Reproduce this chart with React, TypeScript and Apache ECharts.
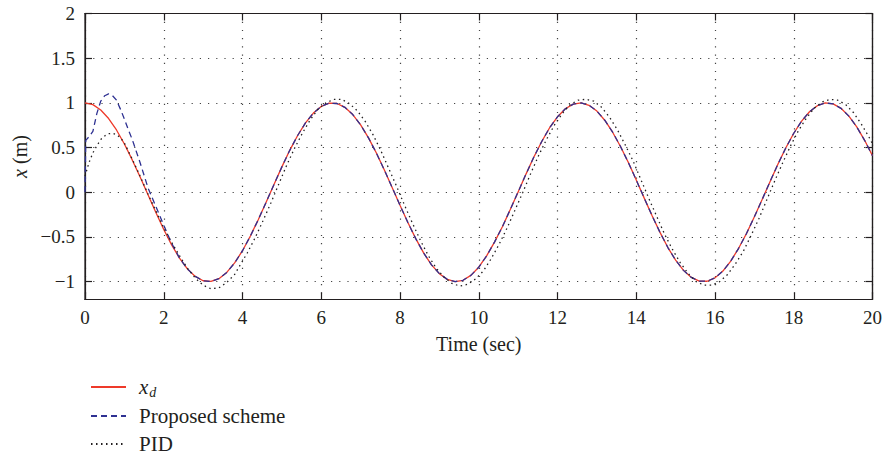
import React, { useEffect, useRef } from "react";
import * as echarts from "echarts";

// time grid (s)
const T = [
  0, 0.2, 0.4, 0.6, 0.8, 1, 1.2, 1.4, 1.6, 1.8, 2, 2.2, 2.4, 2.6, 2.8, 3, 3.2, 3.4, 3.6, 3.8,
  4, 4.2, 4.4, 4.6, 4.8, 5, 5.2, 5.4, 5.6, 5.8, 6, 6.2, 6.4, 6.6, 6.8, 7, 7.2, 7.4, 7.6, 7.8,
  8, 8.2, 8.4, 8.6, 8.8, 9, 9.2, 9.4, 9.6, 9.8, 10, 10.2, 10.4, 10.6, 10.8, 11, 11.2, 11.4, 11.6, 11.8,
  12, 12.2, 12.4, 12.6, 12.8, 13, 13.2, 13.4, 13.6, 13.8, 14, 14.2, 14.4, 14.6, 14.8, 15, 15.2, 15.4, 15.6, 15.8,
  16, 16.2, 16.4, 16.6, 16.8, 17, 17.2, 17.4, 17.6, 17.8, 18, 18.2, 18.4, 18.6, 18.8, 19, 19.2, 19.4, 19.6, 19.8,
  20,
];

// desired trajectory x_d
const XD = [
  1, 0.98, 0.921, 0.825, 0.697, 0.54, 0.362, 0.17, -0.029, -0.227, -0.416, -0.589, -0.737, -0.857, -0.942, -0.99, -0.998, -0.967, -0.897, -0.791,
  -0.654, -0.49, -0.307, -0.112, 0.087, 0.284, 0.469, 0.635, 0.776, 0.886, 0.96, 0.997, 0.993, 0.95, 0.869, 0.754, 0.608, 0.439, 0.251, 0.054,
  -0.146, -0.339, -0.519, -0.679, -0.812, -0.911, -0.975, -1.0, -0.985, -0.93, -0.839, -0.712, -0.558, -0.386, -0.194, 0.004, 0.203, 0.394, 0.568, 0.722,
  0.844, 0.934, 0.986, 0.999, 0.973, 0.908, 0.806, 0.672, 0.512, 0.332, 0.137, -0.063, -0.26, -0.446, -0.616, -0.76, -0.874, -0.953, -0.994, -0.996,
  -0.958, -0.882, -0.77, -0.627, -0.461, -0.275, -0.079, 0.121, 0.316, 0.498, 0.66, 0.796, 0.901, 0.969, 0.999, 0.989, 0.939, 0.852, 0.731, 0.581,
  0.408,
];

// proposed scheme: initial transient, afterwards it tracks x_d
const PROPOSED_EARLY_T = [0, 0.02, 0.1, 0.2, 0.3, 0.4, 0.5, 0.6, 0.7, 0.8, 0.9, 1.0, 1.1, 1.2, 1.4, 1.6, 1.8, 2.0, 2.2];
const PROPOSED_EARLY_V = [0, 0.58, 0.62, 0.68, 0.88, 1.02, 1.08, 1.1, 1.08, 1.03, 0.93, 0.82, 0.7, 0.59, 0.33, 0.05, -0.16, -0.37, -0.57];
const PROPOSED_TRACK_FROM = 2.4;

// PID response
const PID_T = [
  0, 0.1, 0.2, 0.3, 0.4, 0.5, 0.6, 0.7, 0.8, 0.9, 1.0,
  1.2, 1.4, 1.6, 1.8, 2.0, 2.2, 2.4, 2.6, 2.8, 3.0, 3.2, 3.4, 3.6, 3.8,
  4.12, 4.32, 4.52, 4.72, 4.92, 5.12, 5.32, 5.52, 5.72, 5.92,
  6.12, 6.32, 6.52, 6.72, 6.92, 7.12, 7.32, 7.52, 7.72, 7.92,
  8.12, 8.32, 8.52, 8.72, 8.92, 9.12, 9.32, 9.52, 9.72, 9.92,
  10.12, 10.32, 10.52, 10.72, 10.92, 11.12, 11.32, 11.52, 11.72, 11.92,
  12.12, 12.32, 12.52, 12.72, 12.92, 13.12, 13.32, 13.52, 13.72, 13.92,
  14.12, 14.32, 14.52, 14.72, 14.92, 15.12, 15.32, 15.52, 15.72, 15.92,
  16.12, 16.32, 16.52, 16.72, 16.92, 17.12, 17.32, 17.52, 17.72, 17.92,
  18.12, 18.32, 18.52, 18.72, 18.92, 19.12, 19.32, 19.52, 19.72, 19.92,
  20,
];
const PID_V = [
  0.18, 0.33, 0.44, 0.52, 0.59, 0.63, 0.655, 0.66, 0.645, 0.61, 0.55,
  0.37, 0.18, -0.02, -0.21, -0.4, -0.56, -0.71, -0.85, -0.96, -1.04, -1.08, -1.07, -1.01, -0.92,
  -0.68, -0.51, -0.32, -0.12, 0.09, 0.3, 0.49, 0.66, 0.81, 0.93,
  1.0, 1.04, 1.04, 0.99, 0.91, 0.79, 0.64, 0.46, 0.26, 0.06,
  -0.15, -0.35, -0.54, -0.71, -0.85, -0.95, -1.02, -1.05, -1.03, -0.97,
  -0.88, -0.74, -0.58, -0.4, -0.2, 0.0, 0.21, 0.41, 0.59, 0.75,
  0.88, 0.98, 1.03, 1.04, 1.02, 0.95, 0.84, 0.7, 0.53, 0.35,
  0.14, -0.07, -0.27, -0.47, -0.64, -0.79, -0.91, -1.0, -1.04, -1.04,
  -1.0, -0.92, -0.8, -0.66, -0.48, -0.29, -0.08, 0.13, 0.33, 0.52,
  0.69, 0.83, 0.94, 1.01, 1.04, 1.03, 0.98, 0.89, 0.76, 0.61,
  0.54,
];

const Y_TICKS = [-1, -0.5, 0, 0.5, 1, 1.5, 2];
const NAMES = ["xd", "Proposed scheme", "PID"];

const FONT = "Liberation Serif";
const INK = "#231f20";
const RED = "#ee3a2a";
const BLUE = "#2e3192";

export default function App() {
  const ref = useRef<HTMLDivElement>(null);

  useEffect(() => {
    const chart = echarts.init(ref.current!, null, { renderer: "svg" });

    const xdData = T.map((t, i) => [t, XD[i]]);
    const propData = PROPOSED_EARLY_T.map((t, i) => [t, PROPOSED_EARLY_V[i]]).concat(
      T.map((t, i) => [t, XD[i]]).filter((p) => p[0] >= PROPOSED_TRACK_FROM - 1e-9)
    );
    const pidData = PID_T.map((t, i) => [t, PID_V[i]]);

    const axisLine = { show: true, onZero: false, lineStyle: { color: INK, width: 1.2 } };
    const tick = { show: true, inside: true, length: 7, lineStyle: { color: INK, width: 1.2 } };
    const split = { show: true, lineStyle: { color: "#444", width: 1.2, type: [1.2, 7] as any } };
    const labelStyle = { fontFamily: FONT, fontSize: 19, color: INK };

    chart.setOption({
      animation: false,
      backgroundColor: "#fff",
      textStyle: { fontFamily: FONT },
      grid: {
        left: 85,
        right: 11,
        top: 13.5,
        bottom: 158.5,
        show: true,
        borderColor: INK,
        borderWidth: 1.2,
        backgroundColor: "transparent",
      },
      legend: {
        orient: "vertical",
        left: 85,
        top: 371,
        height: 150,
        itemWidth: 35,
        itemHeight: 14,
        itemGap: 6,
        selectedMode: false,
        data: NAMES,
        itemStyle: { opacity: 0, borderWidth: 0 },
        formatter: (name: string) =>
          name === "xd" ? "{xi|x}{sub|d}" : "{t|" + name + "}",
        textStyle: {
          fontFamily: FONT,
          fontSize: 21,
          color: INK,
          lineHeight: 22,
          rich: {
            xi: { fontFamily: FONT, fontSize: 21, fontStyle: "italic", color: INK, padding: [0, 0, 0, 8] },
            sub: { fontFamily: FONT, fontSize: 14, fontStyle: "italic", color: INK, padding: [10, 0, 0, 1] },
            t: { fontFamily: FONT, fontSize: 21, color: INK, padding: [0, 0, 0, 8] },
          },
        },
      },
      xAxis: [
        {
          type: "value",
          min: 0,
          max: 20,
          interval: 2,
          position: "bottom",
          name: "Time (sec)",
          nameLocation: "middle",
          nameGap: 34,
          nameTextStyle: { fontFamily: FONT, fontSize: 20, color: INK },
          axisLine,
          axisTick: tick,
          axisLabel: { ...labelStyle, margin: 8 },
          splitLine: split,
        },
        {
          type: "value",
          min: 0,
          max: 20,
          interval: 2,
          position: "top",
          axisLine,
          axisTick: tick,
          axisLabel: { show: false },
          splitLine: { show: false },
        },
      ],
      yAxis: [
        {
          type: "value",
          min: -1.2,
          max: 2,
          position: "left",
          name: "{i|x} (m)",
          nameLocation: "middle",
          nameGap: 55,
          nameRotate: 90,
          nameTextStyle: {
            fontFamily: FONT,
            fontSize: 20,
            color: INK,
            rich: { i: { fontFamily: FONT, fontSize: 20, fontStyle: "italic", color: INK } },
          },
          axisLine,
          axisTick: { ...tick, customValues: Y_TICKS },
          axisLabel: {
            ...labelStyle,
            margin: 10,
            customValues: Y_TICKS,
            formatter: (v: number) => String(v).replace("-", "\u2212"),
          },
          splitLine: split,
        },
        {
          type: "value",
          min: -1.2,
          max: 2,
          position: "right",
          axisLine,
          axisTick: { ...tick, customValues: Y_TICKS },
          axisLabel: { show: false, customValues: Y_TICKS },
          splitLine: { show: false },
        },
      ],
      series: [
        {
          type: "line",
          name: "xd",
          data: xdData,
          symbol: "none",
          showSymbol: false,
          lineStyle: { color: RED, width: 1.3 },
          itemStyle: { color: RED },
          z: 3,
        },
        {
          type: "line",
          name: "Proposed scheme",
          data: propData,
          symbol: "none",
          showSymbol: false,
          lineStyle: { color: BLUE, width: 1.3, type: [6, 4] },
          itemStyle: { color: BLUE },
          z: 4,
        },
        {
          type: "line",
          name: "PID",
          data: pidData,
          symbol: "none",
          showSymbol: false,
          lineStyle: { color: INK, width: 1.3, type: [1.5, 3.5] },
          itemStyle: { color: INK },
          z: 5,
        },
      ],
    });

    return () => chart.dispose();
  }, []);

  return (
    <div
      ref={ref}
      style={{ position: "fixed", left: 0, top: 0, width: 885, height: 458, background: "#fff" }}
    />
  );
}
